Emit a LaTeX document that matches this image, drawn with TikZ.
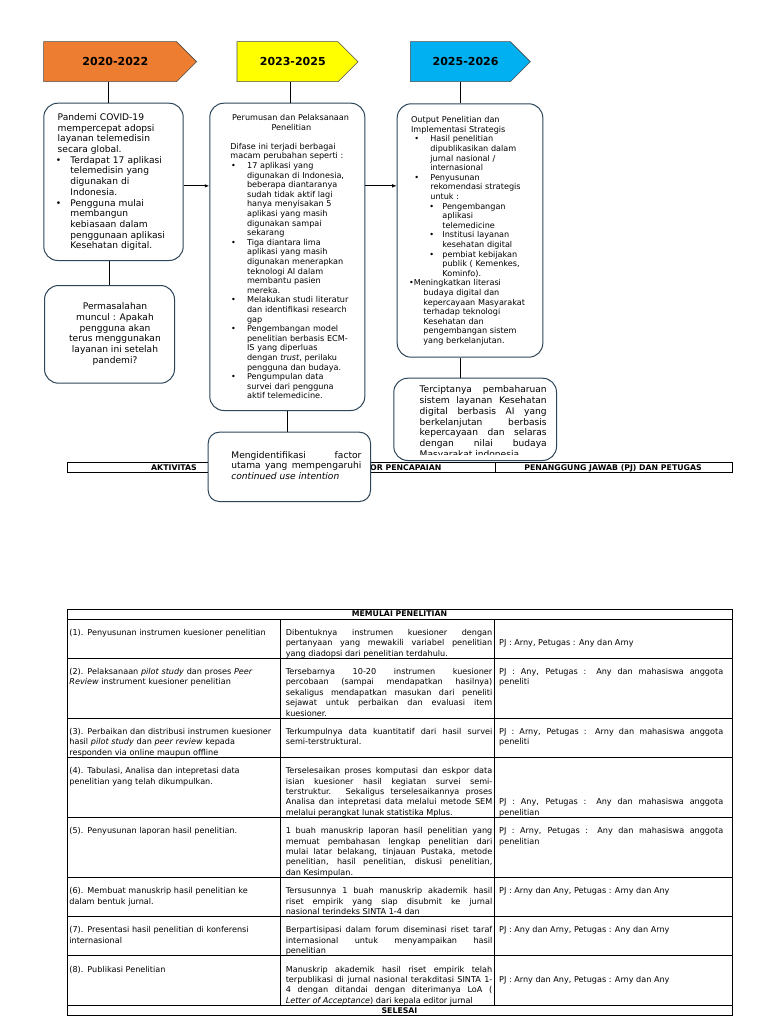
\documentclass[tikz,border=0pt]{standalone}
\usepackage{fontspec}
\setmainfont{DejaVu Sans}
\usetikzlibrary{shapes.symbols,arrows.meta}

\definecolor{yrorange}{RGB}{237,125,49}
\definecolor{yryellow}{RGB}{255,255,0}
\definecolor{yrblue}{RGB}{0,176,240}
\definecolor{boxline}{RGB}{45,70,90}

\tolerance=10000
\hbadness=10000
\hyphenpenalty=10000

% bullet line with hanging indent: #1 = bullet offset, #2 = text offset
\newcommand{\bul}[3]{\par\noindent\hangindent=#2\hangafter=1%
  \hspace*{#1}\makebox[\dimexpr#2-#1\relax][l]{\textbullet}#3\par}

\begin{document}
\begin{tikzpicture}[%
    x=1pt, y=-1pt,                        % pixel grid, y runs downwards
    >={Latex[length=4.5pt,width=3.5pt]},  % small filled heads
    line width=0.8pt,
    ]
% -------------------------------------------------
% Styles
\tikzset{
  yr/.style={signal, signal to=east, signal pointer angle=90, draw=black!70,
    line width=0.6pt, minimum height=40pt, inner sep=0pt, anchor=west,
    font=\fontsize{11}{12}\selectfont\bfseries},
  box/.style={draw=boxline, rounded corners=14pt, line width=1pt, fill=white,
    inner sep=0pt, anchor=north west},
  txt/.style={inner sep=0pt, anchor=north west, align=left},
  jtxt/.style={txt, align=justify},
  big/.style={font=\fontsize{9.1}{10.7}\selectfont},
  sml/.style={font=\fontsize{8.1}{9.6}\selectfont},
  tcell/.style={txt, font=\fontsize{8.1}{10.4}\selectfont},
  jcell/.style={tcell, align=justify},
  head/.style={inner sep=0pt, font=\fontsize{7.8}{9}\selectfont\bfseries},
  tbl/.style={draw=black, line width=0.8pt},
  link/.style={draw=black, line width=0.8pt},
}
\path[use as bounding box, fill=white] (0,0) rectangle (768,1024);
% -------------------------------------------------
% Timeline heads
\node[yr, fill=yrorange, minimum width=153pt] (yr1) at (43.3,61.7) {\hspace*{10.5pt}2020-2022};
\node[yr, fill=yryellow, minimum width=121pt] (yr2) at (236.7,61.7) {\hspace*{10.5pt}2023-2025};
\node[yr, fill=yrblue, minimum width=120pt] (yr3) at (410,61.7) {\hspace*{10.5pt}2025-2026};
% -------------------------------------------------
% Header row of the first table (lies under the boxes)
\draw[tbl] (67,462.7) rectangle (732,472.7);
\draw[tbl] (281,462.7) -- (281,472.7);
\draw[tbl] (495,462.7) -- (495,472.7);
\node[head] (hakt) at (174,467.9) {AKTIVITAS};
\node[head] (hind) at (388,467.9) {INDIKATOR PENCAPAIAN};
\node[head] (hpj) at (613,467.9) {PENANGGUNG JAWAB (PJ) DAN PETUGAS};
% -------------------------------------------------
% The boxes
\node[box, minimum width=139.4pt, minimum height=157.3pt] (pand) at (43.3,102.7) {};
\node[box, minimum width=130pt, minimum height=97.7pt] (masalah) at (44,285) {};
\node[box, minimum width=155pt, minimum height=307.3pt] (rumus) at (209.3,102.7) {};
\node[box, rounded corners=11pt, minimum width=162.3pt, minimum height=69.3pt] (ident) at (207.7,431.7) {};
\node[box, minimum width=145.6pt, minimum height=253.4pt] (output) at (396.7,103.3) {};
\node[box, minimum width=162.7pt, minimum height=82.3pt] (cipta) at (393.3,377.7) {};
% -------------------------------------------------
% Box texts
\node[txt, big, text width=125pt] (tpand) at (57.3,113.1) {%
  Pandemi COVID-19\newline mempercepat adopsi\newline layanan telemedisin\newline secara global.\par
  \bul{-1.8pt}{12.7pt}{Terdapat 17 aplikasi\newline telemedisin yang\newline digunakan di\newline Indonesia.}
  \bul{-1.8pt}{12.7pt}{Pengguna mulai\newline membangun\newline kebiasaan dalam\newline penggunaan aplikasi\newline Kesehatan digital.}};

\node[big, align=center, inner sep=0pt] (tmasalah) at (115,334) {%
  Permasalahan\\ muncul : Apakah\\ pengguna akan\\ terus menggunakan\\ layanan ini setelah\\ pandemi?};

\node[txt, sml, text width=122pt] (trumus) at (230,113.9) {%
  {\centering Perumusan dan Pelaksanaan\newline Penelitian\par}
  \vspace*{9.6pt}
  \noindent Difase ini terjadi berbagai\newline macam perubahan seperti :\par
  \bul{0.7pt}{16.7pt}{17 aplikasi yang\newline digunakan di Indonesia,\newline beberapa diantaranya\newline sudah tidak aktif lagi\newline hanya menyisakan 5\newline aplikasi yang masih\newline digunakan sampai\newline sekarang}
  \bul{0.7pt}{16.7pt}{Tiga diantara lima\newline aplikasi yang masih\newline digunakan menerapkan\newline teknologi AI dalam\newline membantu pasien\newline mereka.}
  \bul{0.7pt}{16.7pt}{Melakukan studi literatur\newline dan identifikasi research\newline gap}
  \bul{0.7pt}{16.7pt}{Pengembangan model\newline penelitian berbasis ECM-\newline IS yang diperluas\newline dengan \textit{trust}, perilaku\newline pengguna dan budaya.}
  \bul{0.7pt}{16.7pt}{Pengumpulan data\newline survei dari pengguna\newline aktif telemedicine.}};

\node[jtxt, big, text width=130pt] (tident) at (231,450.8) {%
  Mengidentifikasi factor\linebreak utama yang mempengaruhi\linebreak \textit{continued use intention}};

\node[txt, sml, text width=131pt] (toutput) at (410.7,116.2) {%
  \noindent Output Penelitian dan\newline Implementasi Strategis\par
  \bul{3.3pt}{19.3pt}{Hasil penelitian\newline dipublikasikan dalam\newline jurnal nasional /\newline internasional}
  \bul{3.3pt}{19.3pt}{Penyusunan\newline rekomendasi strategis\newline untuk :}
  \bul{18.3pt}{31.3pt}{Pengembangan\newline aplikasi\newline telemedicine}
  \bul{18.3pt}{31.3pt}{Institusi layanan\newline kesehatan digital}
  \bul{18.3pt}{31.3pt}{pembiat kebijakan\newline publik ( Kemenkes,\newline Kominfo).}
  \noindent\hangindent=12.3pt\hangafter=1\hspace*{-2pt}\textbullet Meningkatkan literasi\newline budaya digital dan\newline kepercayaan Masyarakat\newline terhadap teknologi\newline Kesehatan dan\newline pengembangan sistem\newline yang berkelanjutan.\par};

\begin{scope}
  \clip ([yshift=7pt]cipta.south west) rectangle (cipta.north east);
  \node[jtxt, big, text width=127pt] (tcipta) at (419.3,385.6) {%
    Terciptanya pembaharuan\linebreak sistem layanan Kesehatan\linebreak digital berbasis AI yang\linebreak berkelanjutan berbasis\linebreak kepercayaan dan selaras\linebreak dengan nilai budaya\linebreak Masyarakat indonesia};
\end{scope}
% -------------------------------------------------
% Connectors
\draw[link] ([xshift=-4.7pt]pand.north) -- ([xshift=-4.7pt]pand.north |- yr1.south);
\draw[link] ([xshift=3.2pt]rumus.north) -- ([xshift=3.2pt]rumus.north |- yr2.south);
\draw[link] ([xshift=-9.5pt]output.north) -- ([xshift=-9.5pt]output.north |- yr3.south);
\draw[link] (masalah.north) -- (masalah.north |- pand.south);
\draw[link] (rumus.south) -- (rumus.south |- ident.north);
\draw[link] ([xshift=-9.5pt]output.south) -- ([xshift=-9.5pt]output.south |- cipta.north);
\draw[link, ->] ([yshift=-4pt]pand.east) -- ([yshift=-4pt]pand.east -| rumus.west);
\draw[link, ->] ([yshift=-4pt]pand.east -| rumus.east) -- ([yshift=-4pt]pand.east -| output.west);
% -------------------------------------------------
% Second table: grid
\draw[tbl] (67,609) rectangle (732,1015.4);
\draw[tbl] (67,619) -- (732,619);
\draw[tbl] (67,658.2) -- (732,658.2);
\draw[tbl] (67,718.2) -- (732,718.2);
\draw[tbl] (67,757.4) -- (732,757.4);
\draw[tbl] (67,817.4) -- (732,817.4);
\draw[tbl] (67,877.4) -- (732,877.4);
\draw[tbl] (67,916.6) -- (732,916.6);
\draw[tbl] (67,955.8) -- (732,955.8);
\draw[tbl] (67,1005.4) -- (732,1005.4);
\draw[tbl] (280,619) -- (280,1005.4);
\draw[tbl] (494,619) -- (494,1005.4);
\node[head] (hmulai) at (399.5,614.2) {MEMULAI PENELITIAN};
\node[head] (hselesai) at (399.5,1010.6) {SELESAI};
% -------------------------------------------------
% Second table: activities
\node[tcell, text width=209pt] (a1) at (69,628.7) {(1). Penyusunan instrumen kuesioner penelitian};
\node[tcell, text width=209pt] (a2) at (69,667.9) {(2). Pelaksanaan \textit{pilot study} dan proses \textit{Peer}\newline \textit{Review} instrument kuesioner penelitian};
\node[tcell, text width=209pt] (a3) at (69,727.9) {(3). Perbaikan dan distribusi instrumen kuesioner\newline hasil \textit{pilot study} dan \textit{peer review} kepada\newline responden via online maupun offline};
\node[tcell, text width=209pt] (a4) at (69,767.1) {(4). Tabulasi, Analisa dan intepretasi data\newline penelitian yang telah dikumpulkan.};
\node[tcell, text width=209pt] (a5) at (69,827.1) {(5). Penyusunan laporan hasil penelitian.};
\node[tcell, text width=209pt] (a6) at (69,887.1) {(6). Membuat manuskrip hasil penelitian ke\newline dalam bentuk jurnal.};
\node[tcell, text width=209pt] (a7) at (69,926.3) {(7). Presentasi hasil penelitian di konferensi\newline internasional};
\node[tcell, text width=209pt] (a8) at (69,965.5) {(8). Publikasi Penelitian};
% -------------------------------------------------
% Second table: indicators
\node[jcell, text width=206.5pt] (b1) at (285.4,628.7) {Dibentuknya instrumen kuesioner dengan\linebreak pertanyaan yang mewakili variabel penelitian\linebreak yang diadopsi dari penelitian terdahulu.};
\node[jcell, text width=206.5pt] (b2) at (285.4,667.9) {Tersebarnya 10-20 instrumen kuesioner\linebreak percobaan (sampai mendapatkan hasilnya)\linebreak sekaligus mendapatkan masukan dari peneliti\linebreak sejawat untuk perbaikan dan evaluasi item\linebreak kuesioner.};
\node[jcell, text width=206.5pt] (b3) at (285.4,727.9) {Terkumpulnya data kuantitatif dari hasil survei\linebreak semi-terstruktural.};
\node[jcell, text width=206.5pt] (b4) at (285.4,767.1) {Terselesaikan proses komputasi dan eskpor data\linebreak isian kuesioner hasil kegiatan survei semi-\linebreak terstruktur. Sekaligus terselesaikannya proses\linebreak Analisa dan intepretasi data melalui metode SEM\linebreak melalui perangkat lunak statistika Mplus.};
\node[jcell, text width=206.5pt] (b5) at (285.4,827.1) {1 buah manuskrip laporan hasil penelitian yang\linebreak memuat pembahasan lengkap penelitian dari\linebreak mulai latar belakang, tinjauan Pustaka, metode\linebreak penelitian, hasil penelitian, diskusi penelitian,\linebreak dan Kesimpulan.};
\node[jcell, text width=206.5pt] (b6) at (285.4,887.1) {Tersusunnya 1 buah manuskrip akademik hasil\linebreak riset empirik yang siap disubmit ke jurnal\linebreak nasional terindeks SINTA 1-4 dan};
\node[jcell, text width=206.5pt] (b7) at (285.4,926.3) {Berpartisipasi dalam forum diseminasi riset taraf\linebreak internasional untuk menyampaikan hasil\linebreak penelitian};
\node[jcell, text width=206.5pt] (b8) at (285.4,965.5) {Manuskrip akademik hasil riset empirik telah\linebreak terpublikasi di jurnal nasional terakditasi SINTA 1-\linebreak 4 dengan ditandai dengan diterimanya LoA (\linebreak \textit{Letter of Acceptance}) dari kepala editor jurnal};
% -------------------------------------------------
% Second table: persons in charge
\node[jcell, text width=224pt] (c1) at (498.8,639.1) {PJ : Arny, Petugas : Any dan Arny};
\node[jcell, text width=224pt] (c2) at (498.8,667.9) {PJ : Any, Petugas : Any dan mahasiswa anggota\linebreak peneliti};
\node[jcell, text width=224pt] (c3) at (498.8,727.9) {PJ : Arny, Petugas : Arny dan mahasiswa anggota\linebreak peneliti};
\node[jcell, text width=224pt] (c4) at (498.8,798.3) {PJ : Any, Petugas : Any dan mahasiswa anggota\linebreak penelitian};
\node[jcell, text width=224pt] (c5) at (498.8,827.1) {PJ : Arny, Petugas : Any dan mahasiswa anggota\linebreak penelitian};
\node[jcell, text width=224pt] (c6) at (498.8,887.1) {PJ : Arny dan Any, Petugas : Arny dan Any};
\node[jcell, text width=224pt] (c7) at (498.8,926.3) {PJ : Any dan Arny, Petugas : Any dan Arny};
\node[jcell, text width=224pt] (c8) at (498.8,975.9) {PJ : Arny dan Any, Petugas : Arny dan Any};
\end{tikzpicture}
\end{document}
